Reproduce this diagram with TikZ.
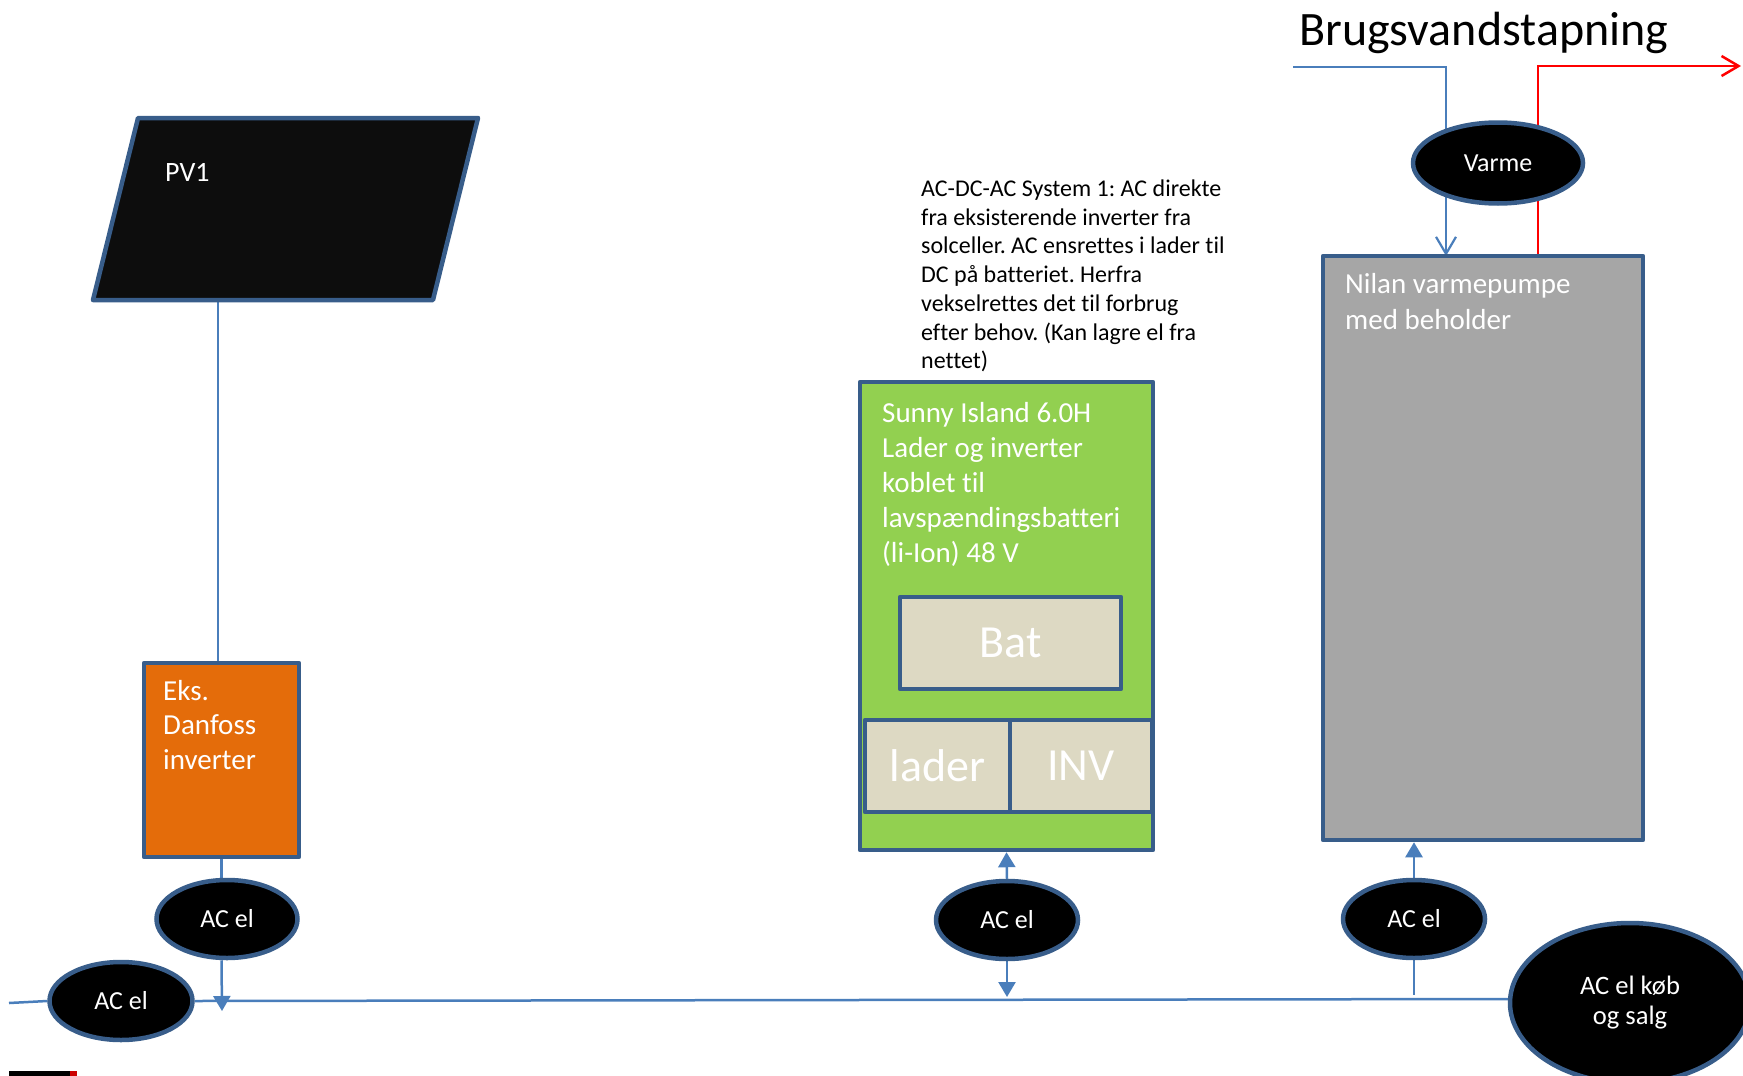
\documentclass[tikz,border=0pt]{standalone}
\usepackage{fontspec}
\setmainfont{Carlito}[Ligatures=NoCommon]
\usetikzlibrary{arrows.meta,shapes.geometric,backgrounds}
\definecolor{bord}{HTML}{385D8A}
\definecolor{conn}{HTML}{4A7EBB}
\definecolor{grn}{HTML}{92D050}
\definecolor{orng}{HTML}{E46C0A}
\definecolor{gry}{HTML}{A6A6A6}
\definecolor{tanc}{HTML}{DDD9C3}
\definecolor{pvfill}{HTML}{0D0D0D}
\begin{document}
\frenchspacing
\begin{tikzpicture}[x=1pt,y=-1pt,
  box/.style={draw=bord,line width=4.5pt,line join=round,rectangle,inner sep=0pt,anchor=center},
  oval/.style={ellipse,draw=bord,line width=4.5pt,fill=black,text=white,inner sep=0pt,align=center,font=\fontsize{26}{31}\selectfont},
  wtext/.style={text=white,anchor=base west,align=left,inner sep=0pt},
  conline/.style={draw=conn,line width=2.5pt},
  tri/.style={-{Triangle[length=15pt,width=17pt]}},
  barb/.style={-{Straight Barb[length=17pt,width=20pt]}}]
\useasboundingbox (0,0) rectangle (1743,1076);
\clip (0,0) rectangle (1743,1076);

% title and note (multi-line nodes: base = baseline of last line)
\node[anchor=base west,inner sep=0pt,font=\fontsize{48}{57}\selectfont] (title) at (1299,45) {Brugsvandstapning};
\node[anchor=base west,align=left,inner sep=0pt,font=\fontsize{24}{28.7}\selectfont] (note) at (921,368.7)
  {AC-DC-AC System 1: AC direkte\\fra eksisterende inverter fra\\solceller. AC ensrettes i lader til\\DC på batteriet. Herfra\\vekselrettes det til forbrug\\efter behov. (Kan lagre el fra\\nettet)};

% PV panel
\draw[draw=bord,fill=pvfill,line width=4.5pt,line join=round] (138,118) -- (478,118) -- (433,300) -- (93,300) -- cycle;
\node[wtext,font=\fontsize{28}{34}\selectfont] (pv) at (165,181) {PV1};
\coordinate (pvb) at (218,297);

% inverter
\node[box,fill=orng,minimum width=155pt,minimum height=194pt] (inv) at (221.5,760) {};
\node[wtext,font=\fontsize{29}{34.7}\selectfont] (invtxt) at (163,769.4) {Eks.\\Danfoss\\inverter};

% Sunny Island
\node[box,fill=grn,minimum width=293pt,minimum height=468pt] (grn) at (1006.5,616) {};
\node[wtext,font=\fontsize{29}{35}\selectfont] (grntxt) at (882,562) {Sunny Island 6.0H\\Lader og inverter\\koblet til\\lavspændingsbatteri\\(li-Ion) 48 V};
\node[box,fill=tanc,text=white,minimum width=221pt,minimum height=92pt,font=\fontsize{46}{55}\selectfont] (bat) at (1010.5,643) {Bat};
\node[box,fill=tanc,text=white,minimum width=145pt,minimum height=92pt,font=\fontsize{46}{55}\selectfont] (lader) at (937.5,766) {lader};
\node[box,fill=tanc,text=white,minimum width=142pt,minimum height=92pt,font=\fontsize{46}{55}\selectfont] (invb) at (1081,766) {INV};

% heat pump
\node[box,fill=gry,minimum width=320pt,minimum height=584pt] (grey) at (1483,548) {};
\node[wtext,font=\fontsize{29}{36.7}\selectfont] (greytxt) at (1345,329.7) {Nilan varmepumpe\\med beholder};

% ellipses
\node[oval,minimum width=170pt,minimum height=81pt] (varme) at (1498,163) {Varme};
\node[oval,minimum width=141pt,minimum height=78pt] (ac1) at (227,919) {AC el};
\node[oval,minimum width=143pt,minimum height=78pt] (ac0) at (121,1001) {AC el};
\node[oval,minimum width=142pt,minimum height=78pt] (ac2) at (1007,920) {AC el};
\node[oval,minimum width=142pt,minimum height=78pt] (ac3) at (1414,919) {AC el};
\node[oval,minimum width=240pt,minimum height=160pt,font=\fontsize{26.6}{30}\selectfont] (big) at (1630,1003) {AC el køb\\og salg};

% free ends
\coordinate (ml) at (9,1003);
\coordinate (m1) at (222,1011);
\coordinate (m2) at (1007,997);
\coordinate (m3) at (1414,995);
\coordinate (cw) at (1293,67);
\coordinate (gin) at (1446,256);
\coordinate (rst) at (1538,256);
\coordinate (rend) at (1741,66);

\begin{scope}[on background layer]
  \draw[conline] (pvb) -- (pvb |- inv.north);
  \draw[conline] (inv.south) -- (inv.south |- ac1.center);
  \draw[conline,tri] (inv.south |- ac1.south) -- (m1);
  \draw[conline] (ml) -- (ac0.west);
  \draw[conline] (ac0.east) -- ([yshift=4pt]big.west);
  \draw[conline,tri] (ac2.north) -- (grn.south);
  \draw[conline,tri] (ac2.south) -- (m2);
  \draw[conline,tri] (ac3.north) -- (ac3.north |- grey.south);
  \draw[conline] (ac3.south) -- (m3);
  \draw[conline,line width=2.2pt,barb] (cw) -| (gin);
  \draw[red,line width=2.5pt,barb] (rst) |- (rend);
\end{scope}

% cut-off mark bottom left
\fill[black] (9,1071) rectangle (70,1076);
\fill[red!80!black] (70,1071) rectangle (77,1076);
\end{tikzpicture}
\end{document}
